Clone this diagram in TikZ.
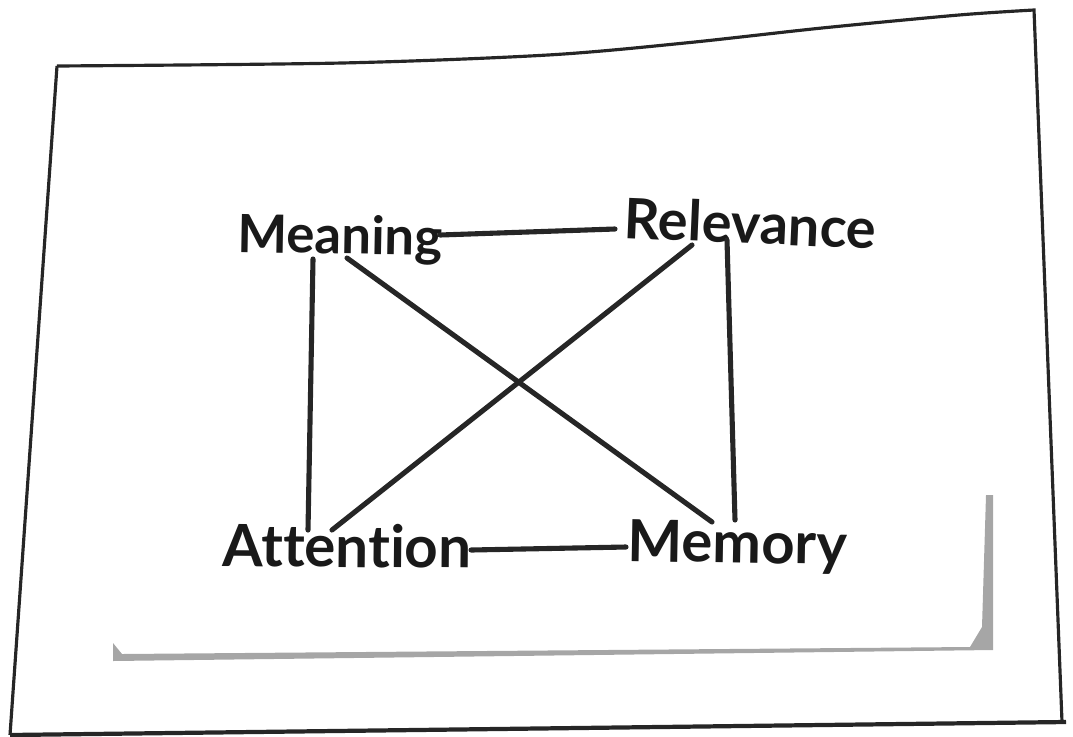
\documentclass[tikz,border=0pt]{standalone}
\usepackage{fontspec}
\setmainfont{Lato}[Ligatures=NoCommon]
\usetikzlibrary{calc}
\tikzset{
  word/.style={inner sep=0pt, anchor=base west, font=\fontsize{15}{18}\selectfont\bfseries, text=black!90},
  link/.style={line width=1.45pt, black!85, line cap=round},
  paper/.style={line width=0.9pt, black!85}
}
\begin{document}
\begin{tikzpicture}[x=0.01cm,y=-0.01cm]
\useasboundingbox (0,0) rectangle (1073,736);
% paper outline
\draw[paper] plot[smooth] coordinates {(57,66) (342,63) (548,55) (685,43) (822,28) (959,15) (1034,10)}
  -- (1062,722);
\draw[paper] (57,66) -- (10,735);
\draw[black!85, line width=1.2pt] (10,735) -- (1066,722);
% shadow
\fill[gray!70] (113,643) -- (122,654) -- (970,647) -- (982,627) -- (986,495) -- (993,495) -- (993,650) -- (113,661) -- cycle;
% words
\node[word, rotate=-1] (M) at (237,252) {Meaning};
\node[word, rotate=-2.5, font=\fontsize{15.9}{18}\selectfont\bfseries] (R) at (623,238) {Relevance};
\node[word, rotate=-0.5, font=\fontsize{16.6}{18}\selectfont\bfseries] (A) at (222,566) {Attention};
\node[word, rotate=-1, font=\fontsize{16.5}{18}\selectfont\bfseries] (Y) at (627,561) {Memory};
% connectors
\draw[link] ($(M.base west)+(203,-17)$) -- ($(R.base west)+(-8,-9)$);
\draw[link] ($(M.base west)+(76,7)$) -- ($(A.base west)+(86,-36)$);
\draw[link] ($(M.base west)+(110,6)$) -- ($(Y.base west)+(85,-39)$);
\draw[link] ($(R.base west)+(69,7)$) -- ($(A.base west)+(110,-36)$);
\draw[link] ($(R.base west)+(104,2)$) -- ($(Y.base west)+(108,-41)$);
\draw[link] ($(A.base west)+(249,-16)$) -- ($(Y.base west)+(-1,-14)$);
\end{tikzpicture}
\end{document}
